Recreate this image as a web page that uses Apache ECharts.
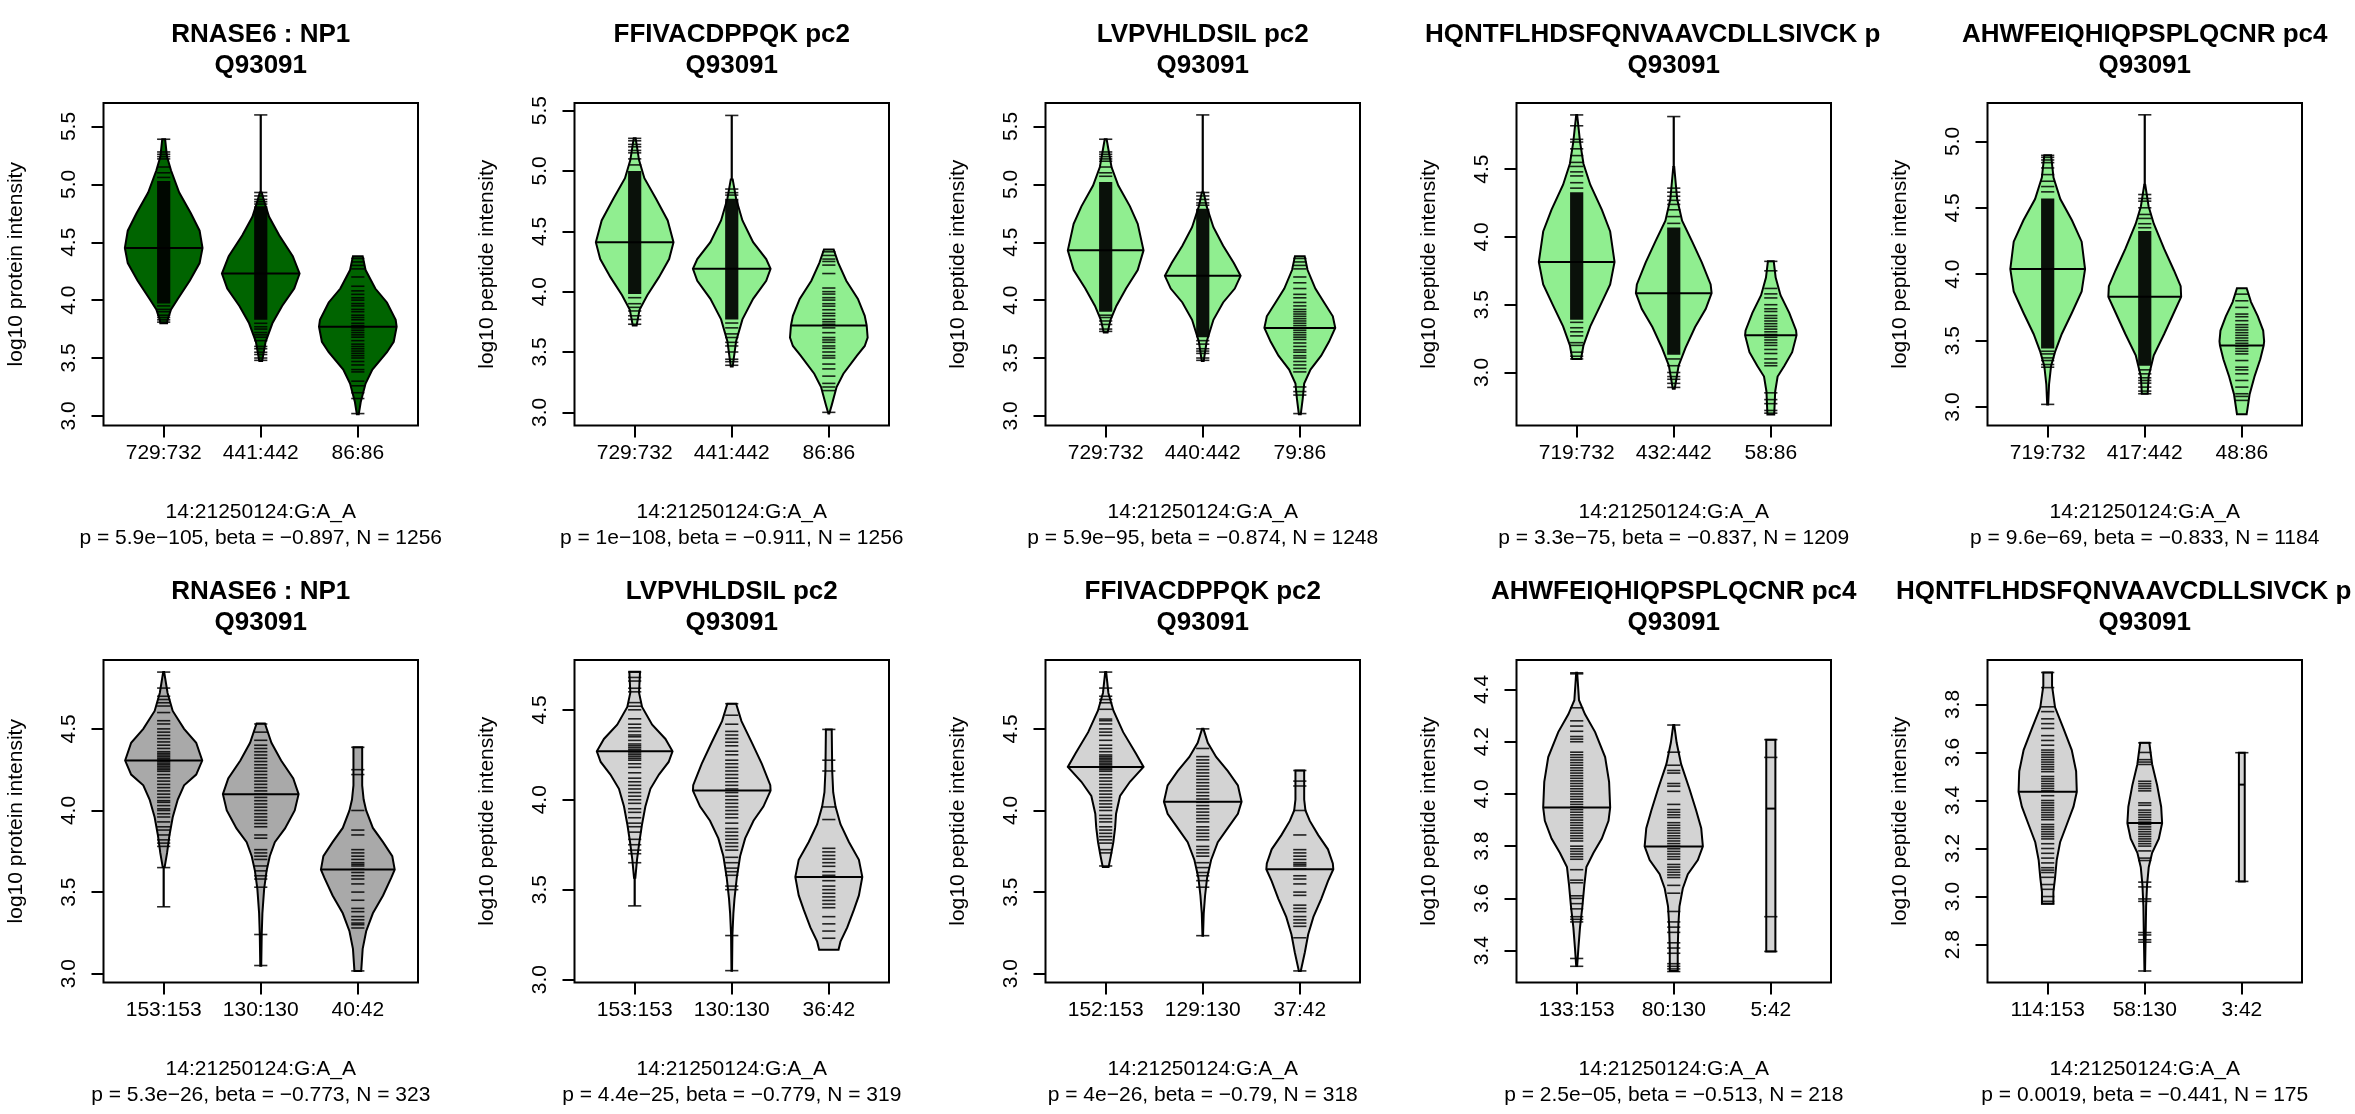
<!DOCTYPE html>
<html><head><meta charset="utf-8">
<script src="https://cdn.jsdelivr.net/npm/echarts/dist/echarts.min.js"></script>
<style>html,body{margin:0;padding:0;background:#fff}#c{width:2355px;height:1114px}</style>
</head><body><div id="c"></div>
<script>
// ---------------- DATA ----------------
const titles = ['RNASE6 : NP1','FFIVACDPPQK pc2','LVPVHLDSIL pc2','HQNTFLHDSFQNVAAVCDLLSIVCK p','AHWFEIQHIQPSPLQCNR pc4',
                'RNASE6 : NP1','LVPVHLDSIL pc2','FFIVACDPPQK pc2','AHWFEIQHIQPSPLQCNR pc4','HQNTFLHDSFQNVAAVCDLLSIVCK p'];
const proteinId = 'Q93091';
const yLabels = ['log10 protein intensity','log10 peptide intensity','log10 peptide intensity','log10 peptide intensity','log10 peptide intensity',
                 'log10 protein intensity','log10 peptide intensity','log10 peptide intensity','log10 peptide intensity','log10 peptide intensity'];
const categories = [
  ['729:732','441:442','86:86'], ['729:732','441:442','86:86'], ['729:732','440:442','79:86'],
  ['719:732','432:442','58:86'], ['719:732','417:442','48:86'],
  ['153:153','130:130','40:42'], ['153:153','130:130','36:42'], ['152:153','129:130','37:42'],
  ['133:153','80:130','5:42'], ['114:153','58:130','3:42']];
const snpLabel = '14:21250124:G:A_A';
const statLabels = [
  'p = 5.9e\u2212105, beta = \u22120.897, N = 1256', 'p = 1e\u2212108, beta = \u22120.911, N = 1256',
  'p = 5.9e\u221295, beta = \u22120.874, N = 1248', 'p = 3.3e\u221275, beta = \u22120.837, N = 1209',
  'p = 9.6e\u221269, beta = \u22120.833, N = 1184', 'p = 5.3e\u221226, beta = \u22120.773, N = 323',
  'p = 4.4e\u221225, beta = \u22120.779, N = 319', 'p = 4e\u221226, beta = \u22120.79, N = 318',
  'p = 2.5e\u221205, beta = \u22120.513, N = 218', 'p = 0.0019, beta = \u22120.441, N = 175'];
const yTicks = [
  [3,3.5,4,4.5,5,5.5],[3,3.5,4,4.5,5,5.5],[3,3.5,4,4.5,5,5.5],[3,3.5,4,4.5],[3,3.5,4,4.5,5],
  [3,3.5,4,4.5],[3,3.5,4,4.5],[3,3.5,4,4.5],[3.4,3.6,3.8,4.0,4.2,4.4],[2.8,3.0,3.2,3.4,3.6,3.8]];
const yLimits = [
  [2.917,5.703],[2.891,5.563],[2.917,5.703],[2.609,4.988],[2.861,5.289],
  [2.946,4.922],[2.984,4.777],[2.946,4.922],[3.278,4.513],[2.642,3.985]];

// violin outlines: [value, half-width in group units]
const violins = [
 [ [[5.39,0.015],[5.24,0.034],[5.12,0.076],[4.93,0.16],[4.75,0.28],[4.60,0.37],[4.45,0.40],[4.32,0.37],[4.17,0.27],[4.01,0.145],[3.92,0.076],[3.83,0.04],[3.80,0.035]],
   [[4.93,0.01],[4.84,0.04],[4.72,0.086],[4.56,0.19],[4.38,0.33],[4.23,0.40],[4.10,0.345],[3.95,0.22],[3.80,0.12],[3.64,0.05],[3.475,0.015]],
   [[4.38,0.05],[4.26,0.08],[4.10,0.18],[3.98,0.30],[3.83,0.39],[3.77,0.40],[3.64,0.37],[3.55,0.30],[3.40,0.15],[3.28,0.08],[3.12,0.03],[3.015,0.01]] ],
 [ [[5.27,0.01],[5.09,0.045],[4.94,0.10],[4.77,0.22],[4.59,0.34],[4.41,0.40],[4.27,0.355],[4.12,0.25],[3.97,0.13],[3.85,0.05],[3.72,0.02]],
   [[4.93,0.01],[4.77,0.045],[4.59,0.11],[4.41,0.22],[4.27,0.355],[4.19,0.40],[4.09,0.355],[3.94,0.22],[3.77,0.11],[3.59,0.045],[3.38,0.01]],
   [[4.35,0.05],[4.24,0.096],[4.09,0.18],[3.94,0.30],[3.80,0.37],[3.72,0.39],[3.62,0.40],[3.55,0.37],[3.47,0.29],[3.32,0.15],[3.21,0.08],[3.06,0.03],[2.99,0.005]] ],
 [ [[5.39,0.01],[5.15,0.06],[4.99,0.13],[4.81,0.25],[4.66,0.33],[4.43,0.39],[4.26,0.33],[4.10,0.21],[3.95,0.11],[3.83,0.05],[3.72,0.02]],
   [[4.93,0.01],[4.81,0.04],[4.63,0.11],[4.47,0.21],[4.32,0.32],[4.21,0.39],[4.10,0.33],[3.98,0.21],[3.83,0.11],[3.64,0.04],[3.475,0.01]],
   [[4.38,0.05],[4.26,0.08],[4.10,0.16],[3.98,0.25],[3.86,0.34],[3.76,0.365],[3.64,0.30],[3.52,0.22],[3.40,0.11],[3.28,0.045],[3.15,0.03],[3.015,0.01]] ],
 [ [[4.90,0.005],[4.70,0.035],[4.54,0.07],[4.385,0.14],[4.20,0.26],[4.04,0.345],[3.816,0.39],[3.65,0.345],[3.49,0.24],[3.34,0.14],[3.20,0.07],[3.10,0.045]],
   [[4.516,0.005],[4.28,0.035],[4.12,0.086],[3.965,0.19],[3.81,0.29],[3.65,0.38],[3.585,0.39],[3.47,0.33],[3.335,0.22],[3.18,0.12],[3.05,0.05],[2.88,0.01]],
   [[3.82,0.03],[3.70,0.05],[3.57,0.10],[3.44,0.19],[3.31,0.26],[3.275,0.265],[3.15,0.22],[3.05,0.14],[2.97,0.07],[2.86,0.045],[2.69,0.035]] ],
 [ [[4.895,0.035],[4.727,0.06],[4.566,0.13],[4.406,0.25],[4.245,0.35],[4.039,0.385],[3.87,0.35],[3.71,0.25],[3.55,0.145],[3.415,0.076],[3.31,0.035],[3.17,0.014],[3.02,0.005]],
   [[4.673,0.005],[4.51,0.04],[4.38,0.093],[4.19,0.20],[4.03,0.30],[3.91,0.37],[3.83,0.375],[3.71,0.30],[3.55,0.20],[3.39,0.093],[3.23,0.04],[3.10,0.03]],
   [[3.894,0.05],[3.79,0.095],[3.683,0.165],[3.576,0.22],[3.495,0.23],[3.463,0.225],[3.36,0.19],[3.228,0.13],[3.094,0.08],[2.946,0.05]] ],
 [ [[4.848,0.005],[4.72,0.04],[4.61,0.093],[4.50,0.21],[4.415,0.335],[4.306,0.397],[4.22,0.335],[4.154,0.21],[4.067,0.145],[3.958,0.093],[3.85,0.06],[3.74,0.035],[3.653,0.01]],
   [[4.533,0.043],[4.415,0.11],[4.306,0.21],[4.197,0.335],[4.10,0.39],[4.0,0.35],[3.89,0.25],[3.806,0.145],[3.72,0.093],[3.63,0.06],[3.52,0.035],[3.37,0.017],[3.24,0.01],[3.048,0.005]],
   [[4.387,0.045],[4.154,0.045],[4.067,0.06],[4.0,0.086],[3.893,0.155],[3.806,0.26],[3.72,0.355],[3.638,0.38],[3.588,0.345],[3.479,0.26],[3.37,0.155],[3.26,0.086],[3.152,0.05],[3.017,0.035]] ],
 [ [[4.711,0.055],[4.595,0.045],[4.516,0.076],[4.417,0.18],[4.338,0.317],[4.269,0.39],[4.21,0.35],[4.14,0.25],[4.061,0.162],[3.962,0.11],[3.864,0.076],[3.765,0.048],[3.666,0.024],[3.567,0.007]],
   [[4.534,0.045],[4.437,0.10],[4.318,0.207],[4.2,0.31],[4.081,0.397],[4.051,0.40],[3.962,0.326],[3.883,0.224],[3.785,0.138],[3.686,0.086],[3.567,0.052],[3.449,0.028],[3.37,0.017],[3.25,0.007],[3.05,0.003]],
   [[4.391,0.03],[4.16,0.035],[4.042,0.045],[3.962,0.069],[3.864,0.12],[3.765,0.207],[3.666,0.31],[3.571,0.345],[3.468,0.31],[3.389,0.259],[3.29,0.19],[3.211,0.12],[3.166,0.10]] ],
 [ [[4.848,0.005],[4.72,0.028],[4.611,0.08],[4.48,0.18],[4.35,0.31],[4.267,0.39],[4.176,0.25],[4.089,0.148],[3.98,0.107],[3.893,0.097],[3.806,0.079],[3.718,0.052],[3.653,0.03]],
   [[4.50,0.007],[4.415,0.052],[4.328,0.138],[4.241,0.259],[4.154,0.362],[4.054,0.40],[3.98,0.362],[3.893,0.259],[3.806,0.155],[3.697,0.086],[3.588,0.045],[3.479,0.024],[3.37,0.01],[3.233,0.003]],
   [[4.245,0.045],[4.067,0.045],[4.0,0.058],[3.936,0.103],[3.849,0.19],[3.762,0.29],[3.675,0.34],[3.64,0.345],[3.567,0.29],[3.457,0.22],[3.348,0.14],[3.24,0.086],[3.131,0.052],[3.017,0.01]] ],
 [ [[4.464,0.005],[4.359,0.024],[4.305,0.086],[4.237,0.19],[4.141,0.293],[4.046,0.334],[3.948,0.345],[3.897,0.328],[3.829,0.259],[3.774,0.172],[3.72,0.10],[3.652,0.079],[3.57,0.059],[3.488,0.034],[3.407,0.017],[3.341,0.005]],
   [[4.264,0.005],[4.196,0.03],[4.114,0.076],[4.019,0.162],[3.937,0.231],[3.869,0.283],[3.799,0.30],[3.747,0.248],[3.693,0.145],[3.638,0.093],[3.57,0.059],[3.502,0.048],[3.407,0.041],[3.322,0.041]],
   [[4.208,0.047],[3.397,0.047]] ],
 [ [[3.933,0.045],[3.877,0.045],[3.788,0.076],[3.70,0.162],[3.61,0.248],[3.522,0.293],[3.436,0.30],[3.374,0.266],[3.30,0.197],[3.226,0.128],[3.152,0.093],[3.078,0.076],[3.019,0.059],[2.97,0.059]],
   [[3.64,0.047],[3.551,0.076],[3.463,0.128],[3.374,0.169],[3.306,0.179],[3.241,0.145],[3.182,0.076],[3.122,0.041],[3.049,0.024],[2.96,0.014],[2.856,0.01],[2.69,0.003]],
   [[3.599,0.03],[3.063,0.03]] ]
];
const medians = [[4.45,4.23,3.77],[4.41,4.19,3.72],[4.43,4.21,3.76],[3.816,3.585,3.275],[4.039,3.83,3.463],
                 [4.306,4.10,3.638],[4.269,4.051,3.571],[4.267,4.054,3.64],[3.948,3.799,3.944],[3.436,3.306,3.466]];
const dataRanges = [
  [[3.80,5.39],[3.48,5.60],[3.015,4.38]], [[3.72,5.27],[3.38,5.46],[2.99,4.35]], [[3.72,5.39],[3.475,5.60],[3.015,4.38]],
  [[3.10,4.90],[2.88,4.888],[2.69,3.82]], [[3.02,4.895],[3.10,5.20],[2.946,3.894]],
  [[3.41,4.848],[3.048,4.533],[3.017,4.387]], [[3.41,4.711],[3.05,4.534],[3.166,4.391]], [[3.653,4.848],[3.233,4.50],[3.017,4.245]],
  [[3.341,4.464],[3.322,4.264],[3.397,4.208]], [[2.97,3.933],[2.69,3.64],[3.063,3.599]]];
// value ranges where the individual observations overlap into a solid band
const denseBands = [[[3.97,5.03],[3.83,4.81],null],[[3.98,5.0],[3.77,4.77],null],[[3.9,5.02],[3.68,4.79],null],
  [[3.39,4.33],[3.13,4.07],null],[[3.44,4.57],[3.31,4.325],null],[null,null,null],[null,null,null],[null,null,null],[null,null,null],[null,null,null]];
// individual observations (bean lines) outside the dense bands
const beans = [
 [[5.39,5.28,5.26,5.24,5.22,5.15,5.1,5.06,3.95,3.92,3.9,3.87,3.85,3.83,3.81],
  [5.60,4.93,4.9,4.87,4.85,4.83,3.80,3.77,3.75,3.72,3.7,3.68,3.65,3.6,3.58,3.55,3.53,3.5,3.48],
  [4.36,4.33,4.3,4.27,4.2,4.12,4.08,4.05,4.02,4.0,3.97,3.95,3.92,3.9,3.87,3.85,3.83,3.8,3.78,3.76,3.74,3.72,3.7,3.68,3.65,3.62,3.6,3.58,3.56,3.54,3.52,3.5,3.47,3.44,3.4,3.38,3.3,3.26,3.2,3.15,3.02]],
 [[5.27,5.25,5.22,5.2,5.17,5.15,5.1,5.05,3.95,3.9,3.87,3.84,3.8,3.77,3.73],
  [5.46,4.85,4.82,4.8,3.74,3.7,3.65,3.62,3.58,3.55,3.5,3.44,3.42,3.39],
  [4.33,4.3,4.27,4.25,4.22,4.15,4.03,4.0,3.98,3.95,3.93,3.9,3.88,3.85,3.82,3.8,3.77,3.75,3.73,3.7,3.66,3.62,3.6,3.58,3.55,3.53,3.5,3.47,3.45,3.4,3.36,3.3,3.24,3.21,3.18,3.0]],
 [[5.39,5.28,5.26,5.24,5.22,5.2,5.15,5.1,5.07,3.87,3.85,3.82,3.79,3.75,3.73],
  [5.60,4.93,4.9,4.87,4.84,4.82,3.65,3.62,3.58,3.56,3.54,3.5,3.48],
  [4.36,4.33,4.3,4.27,4.2,4.15,4.1,4.05,4.02,3.98,3.95,3.92,3.9,3.88,3.86,3.84,3.82,3.8,3.78,3.76,3.74,3.72,3.7,3.68,3.66,3.63,3.6,3.57,3.55,3.52,3.5,3.47,3.44,3.41,3.38,3.25,3.21,3.18,3.02]],
 [[4.9,4.82,4.72,4.7,4.65,4.6,4.55,4.52,4.48,4.45,4.4,4.36,3.37,3.33,3.3,3.27,3.22,3.2,3.15,3.12,3.1],
  [4.888,4.36,4.33,4.3,4.27,4.24,4.2,4.15,4.1,3.1,3.05,3.0,2.97,2.95,2.92,2.89],
  [3.82,3.75,3.62,3.58,3.55,3.5,3.47,3.45,3.42,3.4,3.38,3.36,3.34,3.32,3.3,3.28,3.26,3.24,3.22,3.2,3.17,3.14,3.1,3.07,3.05,2.85,2.8,2.77,2.72,2.7]],
 [[4.895,4.88,4.86,4.84,4.8,4.75,4.7,4.66,4.62,3.42,3.4,3.37,3.35,3.32,3.3,3.02],
  [5.20,4.6,4.57,4.55,4.5,4.45,4.42,4.38,4.35,3.28,3.25,3.22,3.2,3.18,3.15,3.12,3.1],
  [3.85,3.8,3.75,3.7,3.68,3.65,3.62,3.6,3.58,3.56,3.54,3.52,3.5,3.48,3.46,3.44,3.42,3.4,3.35,3.3,3.28,3.25,3.2,3.15,3.1,3.08,3.05]],
 [[4.848,4.75,4.7,4.68,4.66,4.64,4.6,4.55,4.53,4.5,4.48,4.46,4.44,4.42,4.4,4.38,4.36,4.35,4.34,4.33,4.32,4.31,4.3,4.29,4.28,4.27,4.26,4.25,4.24,4.22,4.2,4.18,4.16,4.14,4.12,4.1,4.08,4.06,4.05,4.03,4.01,4.0,3.98,3.96,3.93,3.9,3.88,3.85,3.82,3.8,3.78,3.65,3.41],
  [4.53,4.48,4.43,4.4,4.38,4.36,4.34,4.32,4.3,4.28,4.26,4.24,4.22,4.2,4.18,4.16,4.14,4.12,4.1,4.08,4.06,4.04,4.02,4.0,3.98,3.96,3.94,3.92,3.9,3.85,3.83,3.76,3.74,3.72,3.7,3.66,3.63,3.6,3.58,3.53,3.24,3.05],
  [4.387,4.25,4.22,4.0,3.88,3.85,3.76,3.74,3.72,3.7,3.68,3.67,3.66,3.64,3.62,3.6,3.58,3.55,3.5,3.45,3.4,3.38,3.35,3.33,3.31,3.3,3.28,3.017]],
 [[4.71,4.68,4.66,4.62,4.6,4.54,4.52,4.5,4.45,4.42,4.4,4.38,4.36,4.35,4.33,4.31,4.3,4.29,4.28,4.27,4.26,4.25,4.24,4.23,4.22,4.2,4.18,4.15,4.12,4.1,4.08,4.06,4.04,4.02,4.0,3.98,3.95,3.93,3.9,3.87,3.85,3.82,3.78,3.75,3.72,3.7,3.65,3.41],
  [4.534,4.47,4.42,4.38,4.36,4.34,4.32,4.3,4.27,4.25,4.22,4.2,4.18,4.16,4.14,4.12,4.1,4.08,4.06,4.04,4.02,4.0,3.98,3.96,3.94,3.92,3.9,3.87,3.84,3.82,3.8,3.78,3.76,3.74,3.72,3.68,3.65,3.62,3.6,3.58,3.52,3.5,3.245,3.05],
  [4.391,4.22,4.16,3.96,3.89,3.73,3.71,3.69,3.67,3.65,3.63,3.6,3.58,3.57,3.55,3.52,3.5,3.48,3.46,3.44,3.42,3.4,3.35,3.31,3.27,3.23]],
 [[4.848,4.75,4.7,4.68,4.66,4.62,4.56,4.55,4.53,4.5,4.48,4.46,4.43,4.4,4.38,4.36,4.34,4.33,4.32,4.31,4.3,4.29,4.28,4.27,4.26,4.25,4.24,4.22,4.2,4.18,4.16,4.14,4.12,4.1,4.08,4.06,4.04,4.02,4.0,3.97,3.95,3.93,3.9,3.88,3.86,3.84,3.82,3.8,3.76,3.74,3.66],
  [4.5,4.38,4.33,4.31,4.29,4.27,4.25,4.23,4.21,4.19,4.17,4.15,4.13,4.11,4.09,4.07,4.05,4.03,4.01,3.99,3.97,3.95,3.93,3.9,3.88,3.86,3.84,3.82,3.78,3.76,3.74,3.72,3.68,3.65,3.62,3.6,3.57,3.53,3.233],
  [4.245,4.18,4.15,4.0,3.85,3.76,3.74,3.72,3.7,3.68,3.67,3.66,3.64,3.6,3.58,3.55,3.5,3.48,3.42,3.4,3.38,3.35,3.33,3.31,3.29,3.22,3.017]],
 [[4.464,4.46,4.33,4.28,4.26,4.24,4.22,4.21,4.2,4.16,4.15,4.14,4.13,4.12,4.11,4.1,4.09,4.08,4.07,4.06,4.05,4.04,4.03,4.02,4.01,4.0,3.99,3.98,3.97,3.96,3.95,3.94,3.93,3.92,3.91,3.9,3.89,3.88,3.87,3.86,3.85,3.84,3.83,3.82,3.8,3.79,3.78,3.77,3.76,3.75,3.71,3.67,3.66,3.61,3.6,3.58,3.56,3.53,3.52,3.51,3.37,3.34],
  [4.264,4.16,4.11,4.09,4.08,4.04,4.03,4.01,3.96,3.94,3.93,3.92,3.91,3.89,3.88,3.87,3.86,3.85,3.84,3.83,3.82,3.81,3.8,3.79,3.78,3.77,3.76,3.75,3.73,3.72,3.71,3.7,3.69,3.68,3.65,3.62,3.55,3.51,3.49,3.47,3.43,3.41,3.39,3.35,3.34,3.33,3.32],
  [4.208,4.14,3.53,3.397]],
 [[3.933,3.87,3.79,3.77,3.74,3.72,3.7,3.67,3.65,3.63,3.61,3.6,3.59,3.58,3.57,3.56,3.55,3.54,3.53,3.52,3.5,3.49,3.48,3.47,3.46,3.45,3.44,3.42,3.4,3.39,3.38,3.37,3.36,3.35,3.34,3.33,3.32,3.3,3.29,3.28,3.27,3.26,3.25,3.24,3.22,3.2,3.18,3.16,3.14,3.12,3.11,3.1,3.08,3.05,3.03,3.0,2.98,2.97],
  [3.64,3.6,3.57,3.56,3.55,3.48,3.47,3.46,3.45,3.44,3.39,3.38,3.36,3.35,3.34,3.33,3.32,3.31,3.3,3.29,3.28,3.27,3.26,3.25,3.24,3.23,3.22,3.21,3.19,3.16,3.15,3.06,3.04,2.99,2.98,2.85,2.84,2.82,2.81,2.69],
  [3.599,3.063]]
];

// ---------------- STYLE / LAYOUT ----------------
const fills = ['#006400','#90EE90','#90EE90','#90EE90','#90EE90','#A9A9A9','#D3D3D3','#D3D3D3','#D3D3D3','#D3D3D3'];
const FONT = '"Liberation Sans", Arial, Helvetica, sans-serif';
const COLW = 471, ROWH = 557;
const BOX = {left: 103.5, top: 103, width: 314.5, height: 322.5};
const BEAN_HW = 0.068;

function hwAt(prof, v) {
  if (v <= prof[0][0]) return prof[0][1];
  for (let i = 1; i < prof.length; i++) {
    if (v <= prof[i][0]) {
      const t = (v - prof[i-1][0]) / (prof[i][0] - prof[i-1][0]);
      return prof[i-1][1] + t * (prof[i][1] - prof[i-1][1]);
    }
  }
  return prof[prof.length-1][1];
}

function makeRender(p) {
  return function (params, api) {
    const gi = api.value(0);
    const cx = gi + 1;
    const prof = violins[p][gi].slice().sort((a, b) => a[0] - b[0]);
    const children = [];
    const pts = [];
    prof.forEach(([v, hw]) => pts.push(api.coord([cx + hw, v])));
    for (let i = prof.length - 1; i >= 0; i--) pts.push(api.coord([cx - prof[i][1], prof[i][0]]));
    children.push({type: 'polygon', shape: {points: pts}, style: {fill: fills[p], stroke: '#000', lineWidth: 2}});
    // connecting line for observations outside the drawn violin
    const r = dataRanges[p][gi];
    const vLo = prof[0][0], vHi = prof[prof.length - 1][0];
    const seg = (y0, y1) => {
      const a = api.coord([cx, y0]), b = api.coord([cx, y1]);
      children.push({type: 'line', shape: {x1: a[0], y1: a[1], x2: b[0], y2: b[1]}, style: {stroke: '#000', lineWidth: 2.2}});
    };
    if (r[0] < vLo) seg(r[0], vLo);
    if (r[1] > vHi) seg(vHi, r[1]);
    const d = denseBands[p][gi];
    if (d) {
      const tl = api.coord([cx - BEAN_HW, d[1]]), br = api.coord([cx + BEAN_HW, d[0]]);
      children.push({type: 'rect', shape: {x: tl[0], y: tl[1], width: br[0] - tl[0], height: br[1] - tl[1]}, style: {fill: 'rgba(0,0,0,0.93)'}});
    }
    beans[p][gi].forEach(v => {
      const l = api.coord([cx - BEAN_HW, v]), rr = api.coord([cx + BEAN_HW, v]);
      children.push({type: 'line', shape: {x1: l[0], y1: l[1], x2: rr[0], y2: rr[1]}, style: {stroke: 'rgba(0,0,0,0.85)', lineWidth: 1.6}});
    });
    const m = medians[p][gi];
    const mh = hwAt(prof, m);
    const ml = api.coord([cx - mh, m]), mr = api.coord([cx + mh, m]);
    children.push({type: 'line', shape: {x1: ml[0], y1: ml[1], x2: mr[0], y2: mr[1]}, style: {stroke: '#000', lineWidth: 2}});
    return {type: 'group', children};
  };
}

const grids = [], xAxes = [], yAxes = [], series = [], graphics = [];
for (let p = 0; p < 10; p++) {
  const col = p % 5, row = Math.floor(p / 5);
  const ox = col * COLW, oy = row * ROWH;
  const gl = ox + BOX.left, gt = oy + BOX.top;
  grids.push({left: gl, top: gt, width: BOX.width, height: BOX.height, show: true, borderColor: '#000', borderWidth: 2,
              backgroundColor: 'rgba(0,0,0,0)', containLabel: false, outerBoundsMode: 'none'});
  const cats = categories[p];
  xAxes.push({type: 'value', gridIndex: p, min: 0.38, max: 3.62,
    axisLine: {show: false}, splitLine: {show: false},
    axisTick: {show: true, customValues: [1, 2, 3], length: 12, lineStyle: {color: '#000', width: 2}},
    axisLabel: {show: true, customValues: [1, 2, 3], formatter: v => cats[Math.round(v) - 1], fontSize: 21, color: '#000', fontFamily: FONT, margin: 17}});
  yAxes.push({type: 'value', gridIndex: p, min: yLimits[p][0], max: yLimits[p][1],
    axisLine: {show: false}, splitLine: {show: false},
    axisTick: {show: true, customValues: yTicks[p], length: 12, lineStyle: {color: '#000', width: 2}},
    axisLabel: {show: true, customValues: yTicks[p], rotate: 90, formatter: v => v.toFixed(1), fontSize: 21, color: '#000', fontFamily: FONT, margin: 24}});
  series.push({type: 'custom', xAxisIndex: p, yAxisIndex: p, clip: false, silent: true,
    data: [[0, medians[p][0]], [1, medians[p][1]], [2, medians[p][2]]], renderItem: makeRender(p)});
  const cxBox = gl + BOX.width / 2;
  const clipped = titles[p].endsWith(' p');
  graphics.push({type: 'text', x: clipped ? ox + 12 : cxBox, y: oy + 35, silent: true,
    style: {text: titles[p], font: 'bold 26px ' + FONT, fill: '#000', textAlign: clipped ? 'left' : 'center', textVerticalAlign: 'middle'}});
  graphics.push({type: 'text', x: cxBox, y: oy + 66, silent: true,
    style: {text: proteinId, font: 'bold 26px ' + FONT, fill: '#000', textAlign: 'center', textVerticalAlign: 'middle'}});
  graphics.push({type: 'text', x: cxBox, y: oy + 512, silent: true,
    style: {text: snpLabel, font: '21px ' + FONT, fill: '#000', textAlign: 'center', textVerticalAlign: 'middle'}});
  graphics.push({type: 'text', x: cxBox, y: oy + 538, silent: true,
    style: {text: statLabels[p], font: '21px ' + FONT, fill: '#000', textAlign: 'center', textVerticalAlign: 'middle'}});
  graphics.push({type: 'text', x: ox + 16.5, y: gt + BOX.height / 2, rotation: Math.PI / 2, silent: true,
    style: {text: yLabels[p], font: '21px ' + FONT, fill: '#000', textAlign: 'center', textVerticalAlign: 'middle'}});
}

const chart = echarts.init(document.getElementById('c'), null, {renderer: 'canvas'});
chart.setOption({
  animation: false, backgroundColor: '#fff',
  grid: grids, xAxis: xAxes, yAxis: yAxes, series: series,
  graphic: {elements: graphics}
});
</script></body></html>
